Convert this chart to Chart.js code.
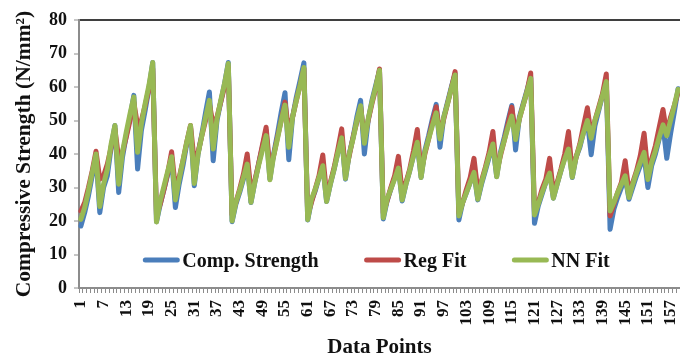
<!DOCTYPE html>
<html>
<head>
<meta charset="utf-8">
<script src="https://cdn.jsdelivr.net/npm/chart.js@4/dist/chart.umd.min.js"></script>
<style>
  html, body { margin: 0; padding: 0; background: #ffffff; }
  #wrap { width: 680px; height: 361px; }
</style>
</head>
<body>
<div id="wrap"><canvas id="chart" width="680" height="361"></canvas></div>
<script>
// Sample numbers along the x axis
const dataPoints = Array.from({ length: 159 }, (_, i) => i + 1);

// Measured compressive strength (N/mm²)
const compStrength = [
  18.5, 22.5, 27.5, 33.5, 39.5, 22.5, 30, 33.5, 42, 48.5, 28.5, 39, 45.5, 51, 57.5, 35.5, 47, 53, 59.5, 67.3,
  19.8, 25, 29.5, 34, 39, 24, 31, 36.5, 43, 48, 30.5, 40, 46, 52.5, 58.5, 38, 50, 55.5, 61, 67.3,
  19.8, 25, 28.5, 32.5, 37.5, 25.5, 31.5, 37, 42, 47, 32.5, 40, 46, 52.5, 58.3, 38.3, 51, 57, 62, 67.2,
  20.3, 26, 29, 33, 36.5, 25.8, 31, 35.5, 40.5, 45, 32.5, 40, 45, 51, 56, 40, 50, 56, 60.5, 65,
  20.6, 26, 29.5, 33, 36, 26, 31, 35, 39.5, 43, 33, 41, 45.5, 50.5, 54.8, 42, 51, 55.5, 60, 64,
  20.3, 25.5, 28.5, 31.5, 34.5, 26.3, 31, 35, 39, 42.5, 33.3, 40.5, 45, 50, 54.5, 41.2, 51, 55, 59, 63,
  19.3, 24.5, 28, 31.5, 34.5, 26.8, 31, 35, 39, 42.5, 33, 39, 42, 46.5, 50, 39.8, 48.5, 53, 57.5, 62,
  17.5, 23.5, 27, 30, 33, 26.5, 30, 33.5, 36.5, 39.5, 30, 36.5, 40, 44.5, 48.5, 38.7, 46, 52.5, 59.5
];

// Regression model prediction
const regFit = [
  23, 25.5, 30, 35, 40.8, 32.5, 33.5, 37, 42, 47.5, 38.5, 40.5, 45, 50, 55.5, 48.5, 50, 54.5, 59.5, 65.5,
  21.8, 25, 29.5, 34.5, 40.7, 29.8, 33, 38, 43.5, 48.5, 37.7, 40.5, 45.5, 50, 55, 48.5, 51, 55.5, 60, 66,
  21.8, 25.5, 29.5, 34, 40, 28.8, 32, 37, 42.5, 48, 35.7, 39.5, 45, 50, 55.5, 46.7, 51, 56, 60.5, 65.5,
  21.8, 25.5, 29.5, 33.5, 39.7, 28, 31.5, 36, 41.5, 47.5, 34.7, 39.5, 45, 49.5, 54.1, 44.7, 50, 55, 59.5, 65.4,
  22.3, 26, 30, 33.5, 39.3, 28.5, 31.5, 35.5, 41, 47.3, 34.7, 40, 44.5, 49.5, 54.1, 45.7, 50.5, 55, 59.5, 64.6,
  22.3, 25.5, 29.5, 33, 38.7, 29, 32, 36, 40.5, 46.7, 34.7, 39.5, 44, 49, 54, 45.7, 50.5, 54.5, 58.5, 64.2,
  22.8, 25.5, 29.5, 32.5, 38.7, 28.5, 31.5, 35.5, 40, 46.7, 34.5, 39, 43, 48.5, 53.8, 45.5, 50, 54, 58, 63.9,
  21.5, 25, 28.5, 31.5, 38, 28.5, 31.5, 35, 39.5, 46.2, 34.5, 38.5, 42.5, 48, 53.3, 46, 51, 54.5, 58.5
];

// Neural network prediction
const nnFit = [
  20.5, 24, 29, 34.5, 40, 24.3, 31, 35.5, 43, 48.5, 31, 40.5, 46.5, 52, 57, 40.5, 49, 55, 60.5, 67.3,
  19.7, 26, 30.5, 35, 39.2, 26.3, 32.5, 38, 43.5, 48.5, 31.2, 40, 45.5, 51, 56, 41.5, 50.5, 56, 61, 67,
  20, 25.5, 29, 33, 37, 25.6, 31.5, 36.5, 41, 45.5, 32.3, 39.5, 44.5, 50, 54.6, 42, 51, 56, 60.5, 65.8,
  20.4, 26.5, 29.5, 33, 36.5, 25.8, 31, 35.5, 40.5, 44.8, 32.7, 40, 44.5, 50, 54.4, 43.2, 50.5, 55.5, 60, 65,
  21, 26.5, 29.5, 32.5, 35.8, 26.3, 31, 35, 39.5, 43.5, 33, 40.5, 44.5, 48.5, 52.3, 44.5, 51, 55, 59.5, 63.6,
  21.5, 25.5, 28.5, 31.5, 34.5, 26.5, 31.5, 35.5, 39.5, 43, 33.2, 40, 44, 48, 51.3, 44.3, 50.5, 54.5, 58.5, 62.6,
  21.8, 25, 28.5, 31.5, 34.3, 26.8, 31, 35, 38.5, 41.5, 33.1, 39, 42.5, 46.5, 50, 44.7, 50, 53.5, 57.5, 61.6,
  23, 25.5, 28.5, 31, 33.5, 27, 31, 34.5, 37.5, 40.5, 32.4, 37.5, 41, 45, 48.7, 45.5, 50, 54.5, 59.3
];

const yTicks = [0, 10, 20, 30, 40, 50, 60, 70, 80];

const SERIF = '"Liberation Serif", "Times New Roman", serif';

// Legend drawn as a single row inside the lower part of the plot
const plotLegend = {
  id: 'plotLegend',
  afterDraw(chart) {
    const { ctx, chartArea, data } = chart;
    const sample = 36, gap = 3, spacing = 46;
    ctx.save();
    ctx.font = 'bold 20px ' + SERIF;
    ctx.textBaseline = 'middle';
    ctx.textAlign = 'left';
    const items = data.datasets.map(ds => ({
      label: ds.label, color: ds.borderColor, w: ctx.measureText(ds.label).width
    }));
    const total = items.reduce((s, it) => s + sample + gap + it.w, 0) + spacing * (items.length - 1);
    let x = (chartArea.left + chartArea.right) / 2 - 3 - total / 2;
    const y = chartArea.bottom - 27;
    items.forEach(it => {
      ctx.strokeStyle = it.color;
      ctx.lineWidth = 5;
      ctx.lineCap = 'round';
      ctx.beginPath();
      ctx.moveTo(x + 2, y - 1);
      ctx.lineTo(x + sample - 2, y - 1);
      ctx.stroke();
      ctx.fillStyle = '#111111';
      ctx.fillText(it.label, x + sample + gap, y + 1);
      x += sample + gap + it.w + spacing;
    });
    ctx.restore();
  }
};

new Chart(document.getElementById('chart'), {
  type: 'line',
  data: {
    labels: dataPoints,
    datasets: [
      { label: 'Comp. Strength', data: compStrength, borderColor: '#4a7ebb', order: 3 },
      { label: 'Reg Fit', data: regFit, borderColor: '#be4b48', order: 2 },
      { label: 'NN Fit', data: nnFit, borderColor: '#98b954', order: 1 }
    ]
  },
  options: {
    responsive: false,
    animation: false,
    devicePixelRatio: 1,
    layout: { padding: { top: 20, right: 0, left: 0, bottom: 0 } },
    elements: {
      line: { borderWidth: 5, tension: 0, borderJoinStyle: 'round', borderCapStyle: 'round', fill: false },
      point: { radius: 0, hoverRadius: 0 }
    },
    plugins: {
      legend: { display: false },
      tooltip: { enabled: false }
    },
    scales: {
      x: {
        type: 'category',
        offset: true,
        grid: {
          offset: true,
          drawOnChartArea: false,
          drawTicks: true,
          tickLength: 5,
          tickColor: '#8c8c8c',
          tickWidth: 1
        },
        border: { display: true, color: '#8c8c8c', width: 2 },
        ticks: {
          autoSkip: false,
          minRotation: 90,
          maxRotation: 90,
          padding: 7,
          color: '#111111',
          font: { family: SERIF, size: 17, weight: 'bold' },
          callback: function (value, index) {
            return index % 6 === 0 ? String(dataPoints[index]) : '';
          }
        },
        title: {
          display: true,
          text: 'Data Points',
          color: '#111111',
          font: { family: SERIF, size: 21, weight: 'bold' },
          padding: { top: 0, bottom: 1 }
        },
        afterFit(scale) {
          scale.height = 73;
          scale.paddingLeft = 0;
          scale.paddingRight = 0;
        }
      },
      y: {
        min: 0,
        max: 80,
        afterBuildTicks(scale) { scale.ticks = yTicks.map(v => ({ value: v })); },
        grid: {
          drawOnChartArea: true,
          color: ctx => (ctx.tick && ctx.tick.value === 80 ? '#3f3f3f' : 'rgba(0,0,0,0)'),
          lineWidth: 2,
          drawTicks: true,
          tickLength: 5,
          tickColor: '#8c8c8c',
          tickWidth: 1
        },
        border: { display: true, color: '#8c8c8c', width: 2 },
        ticks: {
          padding: 7,
          color: '#111111',
          font: { family: SERIF, size: 18, weight: 'bold' }
        },
        title: {
          display: true,
          text: 'Compressive Strength (N/mm²)',
          color: '#111111',
          font: { family: SERIF, size: 21.5, weight: 'bold' },
          padding: { top: 12, bottom: 0 }
        },
        afterFit(scale) {
          scale.width = 79;
          scale.paddingTop = 0;
          scale.paddingBottom = 0;
        }
      }
    }
  },
  plugins: [plotLegend]
});
</script>
</body>
</html>
